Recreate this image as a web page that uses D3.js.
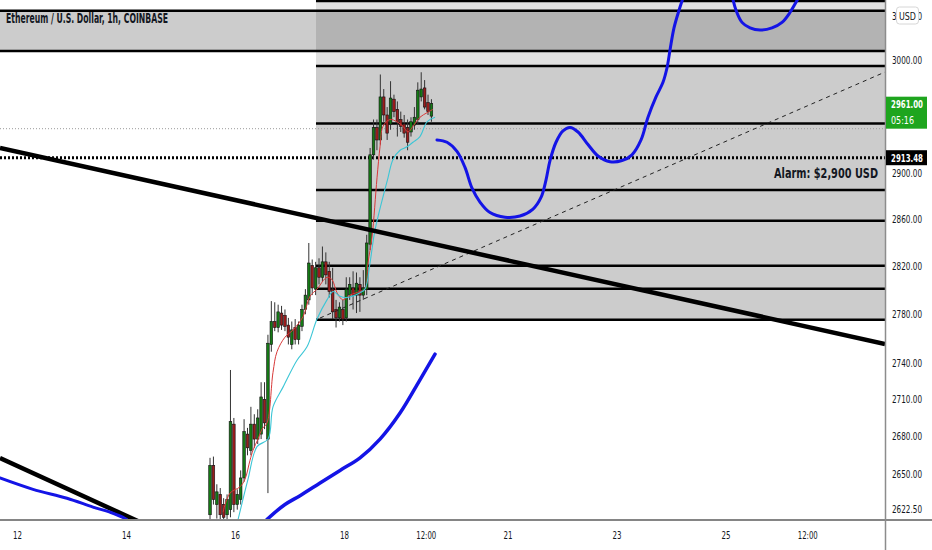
<!DOCTYPE html>
<html>
<head>
<meta charset="utf-8">
<script src="https://cdn.jsdelivr.net/npm/d3@7"></script>
<style>
  body { margin: 0; background: #fff; }
  svg { display: block; }
</style>
</head>
<body>
<div id="chart"></div>
<script>
// ETH/USD 1h chart with drawn zones, trend lines and a hand-drawn forecast

const width = 932, height = 550;
const plotW = 885, plotH = 519;
const font = "'Liberation Sans Narrow','DejaVu Sans Condensed','Roboto Condensed','Liberation Sans',sans-serif";

const title = "Ethereum / U.S. Dollar, 1h, COINBASE";
const priceTicks = [2622.5, 2650, 2680, 2710, 2740, 2780, 2820, 2860, 2900, 3000, 3040];
const dayTicks = [12, 14, 16, 18, 19.5, 21, 23, 25, 26.5];   // day of March 2022

// candles (start day, step in hours)
const candleStart = 15 + 13 / 24, candleStepHours = 1.5;
const open  = [2618,2657,2626,2634,2626,2618,2622,2690,2626,2630,2647,2682,2669,2690,2678,2682,2710,2678,2755,2774,2769,2781,2779,2771,2755,2769,2759,2770,2784,2792,2821,2801,2819,2811,2824,2816,2801,2784,2777,2784,2777,2796,2802,2796,2805,2796,2801,2839,2916,2940,2929,2967,2951,2943,2965,2956,2947,2943,2940,2936,2942,2947,2967,2975,2962,2950];
const high  = [2663,2664,2642,2639,2631,2634,2734,2695,2638,2653,2694,2687,2704,2698,2702,2724,2724,2763,2791,2790,2788,2787,2784,2777,2774,2776,2774,2788,2801,2840,2826,2824,2827,2837,2832,2824,2819,2792,2790,2792,2811,2811,2816,2815,2811,2817,2847,2922,2947,2947,2987,2974,2958,2981,2969,2963,2954,2951,2947,2949,2958,2980,2989,2982,2969,2965];
const low   = [2606,2626,2615,2606,2606,2606,2616,2620,2622,2626,2644,2665,2665,2671,2674,2678,2686,2635,2749,2766,2765,2767,2766,2755,2751,2755,2755,2766,2780,2788,2796,2796,2805,2807,2805,2794,2776,2769,2774,2771,2774,2792,2784,2781,2782,2792,2796,2834,2912,2920,2925,2945,2929,2938,2949,2932,2936,2931,2920,2932,2938,2943,2963,2956,2951,2945];
const close = [2657,2630,2636,2618,2616,2630,2692,2626,2634,2647,2684,2671,2690,2678,2695,2712,2691,2756,2774,2769,2782,2771,2770,2761,2767,2759,2771,2784,2796,2823,2802,2819,2811,2824,2813,2799,2782,2777,2786,2776,2801,2805,2796,2806,2796,2802,2840,2916,2940,2929,2967,2951,2935,2966,2954,2945,2941,2935,2927,2945,2949,2973,2974,2958,2954,2961];

// moving averages
const fastMaDays = [15.780,15.908,16.092,16.183,16.275,16.330,16.422,16.495,16.587,16.697,16.771,16.917,17.064,17.248,17.376,17.505,17.688,17.780,17.872,17.982,18.110,18.294,18.385,18.440,18.514,18.606,18.661,18.716,18.844,18.972,19.083,19.174,19.266,19.394,19.523,19.633];
const fastMa     = [2620,2635,2640,2646,2661,2669,2678,2686,2691,2732,2749,2761,2767,2778,2795,2801,2811,2809,2798,2792,2796,2799,2801,2823,2845,2896,2923,2941,2947,2945,2941,2936,2941,2949,2953,2956];
const slowMaDays = [16.055,16.239,16.404,16.606,16.697,16.881,17.138,17.321,17.505,17.688,17.798,17.927,18.055,18.294,18.385,18.477,18.569,18.807,18.899,19.028,19.156,19.266,19.394,19.523,19.670];
const slowMa     = [2614,2646,2672,2678,2704,2720,2742,2753,2776,2792,2799,2795,2794,2798,2801,2823,2851,2896,2912,2920,2923,2927,2932,2945,2949];

// drawings: [day, price]
const trendMain  = [[11.688, 2922.0], [27.927, 2755.4]];
const trendLow   = [[11.688, 2662.9], [14.367, 2610.1]];
const dashedLine = [[17.56, 2776.9], [27.927, 2989.2]];
const forecast1 = [[19.706,2929],[19.890,2927],[20.073,2919],[20.220,2905],[20.349,2887],[20.495,2875],[20.679,2866],[20.954,2862],[21.229,2863],[21.468,2869],[21.615,2879],[21.706,2894],[21.780,2911],[21.890,2927],[22.018,2937],[22.147,2940],[22.294,2936],[22.477,2925],[22.661,2915],[22.881,2910],[23.101,2911],[23.284,2916],[23.450,2929],[23.578,2949],[23.725,2967],[23.853,2980],[23.927,2993],[23.982,3009],[24.055,3029],[24.147,3045],[24.239,3059]];
const forecast2 = [[25.119,3059],[25.193,3045],[25.303,3034],[25.450,3029],[25.633,3027],[25.853,3029],[26.037,3034],[26.183,3043],[26.312,3054],[26.404,3062]];
const blueLow   = [[16.495,2610],[16.606,2615],[16.917,2626],[17.193,2633],[17.560,2643],[17.927,2653],[18.294,2663],[18.661,2678],[19.028,2699],[19.394,2726],[19.670,2747]];
const blueLeft  = [[11.688,2647],[12.294,2638],[12.917,2631],[13.394,2624],[13.706,2620],[13.982,2615],[14.128,2610]];

// zones and levels
const zoneStart = 17.486;
const bandTop = 3044.5, bandBottom = 3008.1;
const upperTop = 3053.4, upperBottom = 2994.6;
const boxTop = 2994.6, boxBottom = 2775.5;
const boxLevels = [2943.4, 2885.5, 2858.9, 2820.6, 2801.4];
const alarmLevel = 2913.48, alarmText = "Alarm: $2,900 USD", alarmPrice = 2900;
const greyLevel = 2938.9;
const lastPrice = 2961.00, countdown = "05:16";

function day(d) { return new Date(Date.UTC(2022, 2, 1) + (d - 1) * 864e5); }

const x = d3.scaleUtc().domain([day(12), day(28)]).range([17, 17 + 16 * 54.5]);
const y = d3.scaleLog().domain([2622.5, 3000]).range([509, 60]);

const svg = d3.select("#chart").append("svg")
  .attr("width", width)
  .attr("height", height)
  .attr("font-family", font);

svg.append("clipPath").attr("id", "plot")
  .append("rect").attr("x", 0).attr("y", 0).attr("width", plotW).attr("height", plotH);

const plot = svg.append("g").attr("clip-path", "url(#plot)");

// zones
const left = x(day(11)), right = x(day(29));
plot.append("rect")
  .attr("x", x(day(zoneStart))).attr("width", right - x(day(zoneStart)))
  .attr("y", y(upperTop)).attr("height", y(upperBottom) - y(upperTop))
  .attr("fill", "#000").attr("fill-opacity", 0.12);
plot.append("rect")
  .attr("x", left).attr("width", right - left)
  .attr("y", y(bandTop)).attr("height", y(bandBottom) - y(bandTop))
  .attr("fill", "#000").attr("fill-opacity", 0.2);
plot.append("rect")
  .attr("x", x(day(zoneStart))).attr("width", right - x(day(zoneStart)))
  .attr("y", y(boxTop)).attr("height", y(boxBottom) - y(boxTop))
  .attr("fill", "#000").attr("fill-opacity", 0.2);

// zone lines
[bandTop, bandBottom].forEach(p => {
  plot.append("line").attr("x1", left).attr("x2", right)
    .attr("y1", y(p)).attr("y2", y(p))
    .attr("stroke", "#000").attr("stroke-width", 2.5);
});
[upperTop, boxTop, boxBottom].concat(boxLevels).forEach(p => {
  plot.append("line").attr("x1", x(day(zoneStart))).attr("x2", right)
    .attr("y1", y(p)).attr("y2", y(p))
    .attr("stroke", "#000").attr("stroke-width", 2.5);
});

plot.append("line").attr("x1", 0).attr("x2", plotW)
  .attr("y1", y(greyLevel)).attr("y2", y(greyLevel))
  .attr("stroke", "#9a9a9a").attr("stroke-width", 1).attr("stroke-dasharray", "1,2");
plot.append("line").attr("x1", 0).attr("x2", plotW)
  .attr("y1", y(alarmLevel)).attr("y2", y(alarmLevel))
  .attr("stroke", "#000").attr("stroke-width", 3).attr("stroke-dasharray", "2,2");

// candles
const candles = open.map((o, i) => ({
  t: day(candleStart + i * candleStepHours / 24), o: o, h: high[i], l: low[i], c: close[i]
}));

let cg = plot.selectAll(".candle").data(candles).enter().append("g").attr("class", "candle");
cg.append("line")
  .attr("x1", d => x(d.t)).attr("x2", d => x(d.t))
  .attr("y1", d => y(d.h)).attr("y2", d => y(d.l))
  .attr("stroke", "#333").attr("stroke-width", 1);
cg.append("rect")
  .attr("x", d => x(d.t) - 1.3)
  .attr("width", 2.6)
  .attr("y", d => y(Math.max(d.o, d.c)))
  .attr("height", d => Math.max(1, Math.abs(y(d.o) - y(d.c))))
  .attr("fill", d => d.c >= d.o ? "#157a15" : "#9a1c1c")
  .attr("stroke", "#111").attr("stroke-width", 0.6);

// moving averages
const maLine = d3.line().x(d => x(day(d[0]))).y(d => y(d[1])).curve(d3.curveCatmullRom);
plot.append("path").datum(fastMaDays.map((d, i) => [d, fastMa[i]]))
  .attr("d", maLine).attr("fill", "none").attr("stroke", "#d83a3a").attr("stroke-width", 1);
plot.append("path").datum(slowMaDays.map((d, i) => [d, slowMa[i]]))
  .attr("d", maLine).attr("fill", "none").attr("stroke", "#3cc6d6").attr("stroke-width", 1.1);

// drawings
const straight = d3.line().x(d => x(day(d[0]))).y(d => y(d[1]));
plot.append("path").datum(dashedLine).attr("d", straight)
  .attr("fill", "none").attr("stroke", "#222").attr("stroke-width", 1).attr("stroke-dasharray", "4,4");
plot.append("path").datum(trendMain).attr("d", straight)
  .attr("fill", "none").attr("stroke", "#000").attr("stroke-width", 4.5);
plot.append("path").datum(trendLow).attr("d", straight)
  .attr("fill", "none").attr("stroke", "#000").attr("stroke-width", 4.5);

[forecast1, forecast2, blueLow, blueLeft].forEach((pts, i) => {
  plot.append("path").datum(pts).attr("d", maLine)
    .attr("fill", "none").attr("stroke", "#1414e6")
    .attr("stroke-width", i == 2 ? 3.5 : 3)
    .attr("stroke-linecap", "round");
});

// alarm text
svg.append("text")
  .attr("x", 878).attr("y", y(alarmPrice) + 5)
  .attr("text-anchor", "end")
  .attr("font-size", 14).attr("font-weight", 600)
  .attr("fill", "#131722")
  .attr("textLength", 104).attr("lengthAdjust", "spacingAndGlyphs")
  .text(alarmText);

// title
svg.append("text")
  .attr("x", 6).attr("y", 23)
  .attr("font-size", 13.5).attr("font-weight", 700)
  .attr("fill", "#131722")
  .attr("textLength", 162).attr("lengthAdjust", "spacingAndGlyphs")
  .text(title);

// axes
svg.append("rect").attr("x", plotW).attr("y", 0).attr("width", width - plotW).attr("height", height).attr("fill", "#fff");
svg.append("rect").attr("x", 0).attr("y", plotH).attr("width", width).attr("height", height - plotH).attr("fill", "#fff");

let yAxis = d3.axisRight(y).tickValues(priceTicks).tickFormat(d3.format(".2f")).tickSize(0).tickPadding(7);
svg.append("g")
  .attr("transform", "translate(" + plotW + ",0)")
  .call(yAxis)
  .call(g => g.select(".domain").remove())
  .attr("font-family", font)
  .attr("font-size", 10.5)
  .selectAll("text")
  .attr("fill", "#131722")
  .attr("textLength", 30).attr("lengthAdjust", "spacingAndGlyphs");

let xAxis = d3.axisBottom(x)
  .tickValues(dayTicks.map(day))
  .tickFormat(d => d.getUTCHours() == 12 ? "12:00" : d.getUTCDate())
  .tickSize(0).tickPadding(11);
svg.append("g")
  .attr("transform", "translate(0," + (plotH + 1) + ")")
  .call(xAxis)
  .call(g => g.select(".domain").remove())
  .attr("font-family", font)
  .attr("font-size", 11)
  .selectAll("text")
  .attr("fill", "#131722")
  .attr("textLength", d => d.getUTCHours() == 12 ? 20 : 9)
  .attr("lengthAdjust", "spacingAndGlyphs");

svg.append("line").attr("x1", 0).attr("x2", width).attr("y1", plotH + 1).attr("y2", plotH + 1)
  .attr("stroke", "#5d5d5d").attr("stroke-width", 1.5);
svg.append("line").attr("x1", plotW + 0.5).attr("x2", plotW + 0.5).attr("y1", 0).attr("y2", height)
  .attr("stroke", "#8c8c8c").attr("stroke-width", 1.5);

// price labels on the scale
let lp = svg.append("g");
lp.append("rect").attr("x", plotW + 1).attr("y", y(lastPrice) - 7).attr("width", 41).attr("height", 32)
  .attr("fill", "#1ea51e");
lp.append("text").attr("x", plotW + 6).attr("y", y(lastPrice) + 4)
  .attr("font-size", 11).attr("font-weight", 600).attr("fill", "#fff")
  .attr("textLength", 32).attr("lengthAdjust", "spacingAndGlyphs")
  .text(d3.format(".2f")(lastPrice));
lp.append("text").attr("x", plotW + 6).attr("y", y(lastPrice) + 20)
  .attr("font-size", 11).attr("fill", "#fff")
  .attr("textLength", 23).attr("lengthAdjust", "spacingAndGlyphs")
  .text(countdown);

let al = svg.append("g");
al.append("rect").attr("x", plotW + 1).attr("y", y(alarmLevel) - 7.5).attr("width", 41).attr("height", 15)
  .attr("fill", "#000");
al.append("text").attr("x", plotW + 6).attr("y", y(alarmLevel) + 3.8)
  .attr("font-size", 10.5).attr("font-weight", 600).attr("fill", "#fff")
  .attr("textLength", 32).attr("lengthAdjust", "spacingAndGlyphs")
  .text(d3.format(".2f")(alarmLevel));

// currency badge (covers the middle of the top tick label, as on the scale)
let badge = svg.append("g");
badge.append("rect").attr("x", 896.5).attr("y", 7).attr("width", 22).attr("height", 17).attr("rx", 3)
  .attr("fill", "#fff").attr("stroke", "#d6d6d6");
badge.append("text").attr("x", 907.5).attr("y", 19.5).attr("text-anchor", "middle")
  .attr("font-size", 10.5).attr("fill", "#131722")
  .attr("textLength", 17).attr("lengthAdjust", "spacingAndGlyphs")
  .text("USD");
</script>
</body>
</html>
